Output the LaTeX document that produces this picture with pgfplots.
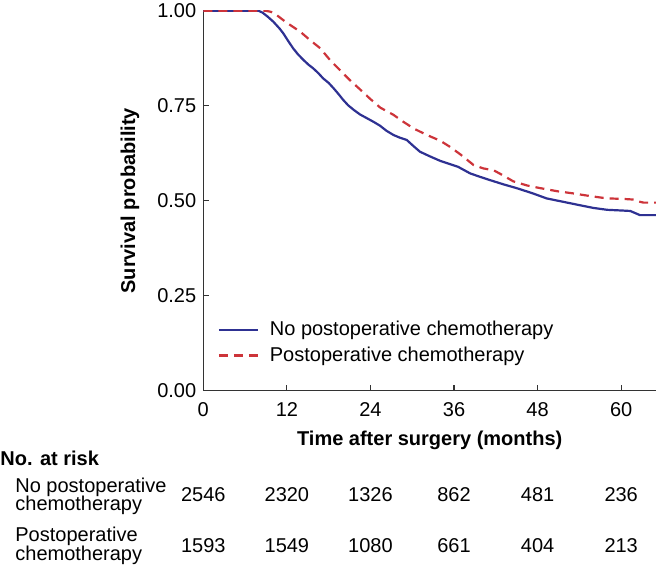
\documentclass[border=0pt]{standalone}
\usepackage{fontspec}
\setmainfont{Liberation Sans}
\usepackage{pgfplots}
\pgfplotsset{compat=1.18}

\definecolor{kmblue}{RGB}{46,49,146}
\definecolor{kmred}{RGB}{205,52,58}

\begin{document}
\begin{tikzpicture}
\useasboundingbox (-101.65pt,-88.65pt) rectangle (226.35pt,195.35pt);
\begin{axis}[
    at={(0,0)}, anchor=south west,
    scale only axis,
    width=226.35pt, height=190pt,
    xmin=0, xmax=65, ymin=0, ymax=1,
    axis x line*=bottom, axis y line*=left,
    axis line style={-, line width=0.6pt, black!80},
    tick align=inside,
    major tick length=3pt,
    tick style={line width=0.6pt, black!80},
    xtick={0,12,24,36,48,60},
    ytick={0,0.25,0.5,0.75,1},
    yticklabel style={/pgf/number format/.cd, fixed, fixed zerofill, precision=2},
    /pgf/number format/assume math mode=true,
    ticklabel style={font=\fontsize{10}{12}\selectfont},
    xticklabel style={yshift=-2.5pt},
    legend cell align=left,
    legend style={draw=none, fill=none, at={(axis cs:0,0.205)}, anchor=north west,
        xshift=4pt, font=\fontsize{10}{12}\selectfont, row sep=0pt,
        /tikz/every odd column/.append style={column sep=3.5pt}},
    legend image code/.code={\draw[#1] (0pt,0pt) -- (19.5pt,0pt);},
]
\addplot[kmblue, line width=1.1pt] coordinates {
(0,1) (7.9,1) (8.5,0.995) (9.2,0.985) (10.06,0.971) (11.0,0.952) (11.5,0.940)
(12.2,0.920) (12.9,0.901) (13.6,0.885) (14.4,0.870) (15.1,0.858) (15.8,0.848)
(16.5,0.836) (17.2,0.822) (18.0,0.810) (18.7,0.796) (19.4,0.781) (20.1,0.765)
(20.8,0.751) (21.6,0.739) (22.5,0.727) (23.5,0.717) (24.5,0.707) (25.4,0.697)
(26.3,0.684) (27.3,0.673) (28.2,0.666) (29.2,0.660) (30.1,0.645) (31.1,0.629)
(32.5,0.617) (34.0,0.605) (35.3,0.597) (36.6,0.589) (38.3,0.572) (39.7,0.563)
(41.2,0.554) (43.1,0.543) (45.0,0.533) (47.2,0.520) (49.3,0.506) (51.7,0.497)
(54.1,0.488) (56.0,0.481) (58.0,0.476) (60.3,0.474) (61.3,0.473) (62.2,0.466)
(62.7,0.462) (65,0.462)
};
\addplot[kmred, line width=1.1pt, dash pattern=on 4.5pt off 3pt] coordinates {
(0,1) (8.9,1) (9.7,0.997) (10.5,0.989) (11.5,0.975) (12.5,0.962) (13.9,0.945)
(15.3,0.923) (16.8,0.901) (18.2,0.870) (19.6,0.844) (21.0,0.818) (22.5,0.793)
(23.9,0.769) (25.4,0.745) (27.3,0.726) (28.7,0.708) (30.2,0.690) (32.1,0.673)
(34.0,0.658) (35.4,0.642) (36.9,0.622) (38.8,0.594) (40.2,0.585) (41.7,0.580)
(43.1,0.566) (44.5,0.551) (46.5,0.540) (48.4,0.533) (50.8,0.525) (53.2,0.519)
(55.6,0.512) (58.0,0.506) (60,0.505) (61.8,0.503) (62.5,0.498) (63.2,0.495)
(65,0.495)
};
\legend{No postoperative chemotherapy, Postoperative chemotherapy}
\end{axis}

% axis titles
\node[font=\fontsize{10}{12}\selectfont\bfseries, anchor=base] at (113.2pt,-27.4pt)
    {Time after surgery (months)};
\node[font=\fontsize{10}{12}\selectfont\bfseries, anchor=base, rotate=90] at (-34.15pt,95pt)
    {Survival probability};

% number at risk table
\begin{scope}[every node/.style={font=\fontsize{10}{12}\selectfont, inner sep=0pt}]
\node[anchor=base west, font=\fontsize{10}{12}\selectfont\bfseries] at (-101.65pt,-37.15pt) {No. at risk};
\node[anchor=base west] at (-94.15pt,-51pt) {No postoperative};
\node[anchor=base west] at (-94.15pt,-59.65pt) {chemotherapy};
\node[anchor=base west] at (-94.15pt,-75.5pt) {Postoperative};
\node[anchor=base west] at (-94.15pt,-84.65pt) {chemotherapy};
\foreach \m/\n in {0/2546, 12/2320, 24/1326, 36/862, 48/481, 60/236}
    \node[anchor=base] at ({\m*3.4823pt},-55.5pt) {\n};
\foreach \m/\n in {0/1593, 12/1549, 24/1080, 36/661, 48/404, 60/213}
    \node[anchor=base] at ({\m*3.4823pt},-80.65pt) {\n};
\end{scope}
\end{tikzpicture}
\end{document}
